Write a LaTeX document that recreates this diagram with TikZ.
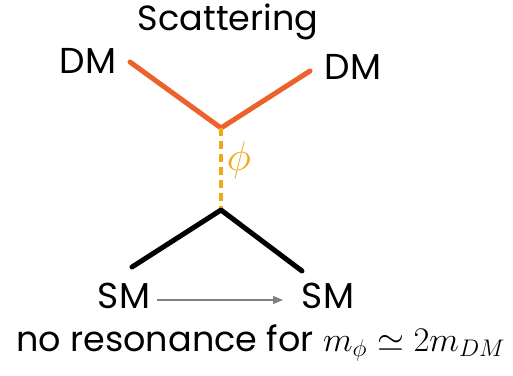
\documentclass[tikz,border=0pt]{standalone}
\usepackage{fontspec}
\setmainfont{Poppins}
\usetikzlibrary{arrows.meta,calc}
\definecolor{dmorange}{RGB}{237,98,44}
\definecolor{medgold}{RGB}{240,168,20}
\definecolor{arrgray}{RGB}{128,128,128}
\tikzset{
  lbl/.style={font=\fontsize{18}{20}\selectfont, inner sep=0pt},
  dmline/.style={draw=dmorange, line width=2.5pt, line cap=round, line join=round},
  smline/.style={draw=black, line width=2.5pt, line cap=round, line join=round},
  medline/.style={draw=medgold, line width=1.6pt, dash pattern=on 4pt off 2.5pt},
}
\begin{document}
\begin{tikzpicture}[x=0.5pt,y=-0.5pt]
\useasboundingbox (0,0) rectangle (513,375);
\node[lbl, font=\fontsize{17.5}{20}\selectfont] (title) at (228,22) {Scattering};
\node[lbl] (dml) at (88,61) {DM};
\node[lbl] (dmr) at (353,67) {DM};
\coordinate (a) at (130,62);
\coordinate (b) at (310,71);
\coordinate (v1) at (221,128);
\coordinate (v2) at (221,210);
\coordinate (c) at (132,267);
\coordinate (d) at (302,271);
\draw[dmline] (a) -- (v1) -- (b);
\draw[medline] (v1) -- (v2);
\node[lbl, text=medgold, font=\fontsize{22}{24}\selectfont] (phi) at (239,160) {$\phi$};
\draw[smline] (c) -- (v2) -- (d);
\node[lbl] (sml) at (124,296) {SM};
\node[lbl] (smr) at (328,296) {SM};
\coordinate (s1) at (157,300);
\coordinate (s2) at (283,300);
\draw[arrgray, line width=0.6pt, -{Triangle[length=5pt,width=4pt]}] (s1) -- (s2);
\node[lbl, anchor=west, font=\fontsize{17.5}{20}\selectfont] (bottom) at (16,343) {no resonance for $m_\phi \simeq 2m_{DM}$};
\end{tikzpicture}
\end{document}
